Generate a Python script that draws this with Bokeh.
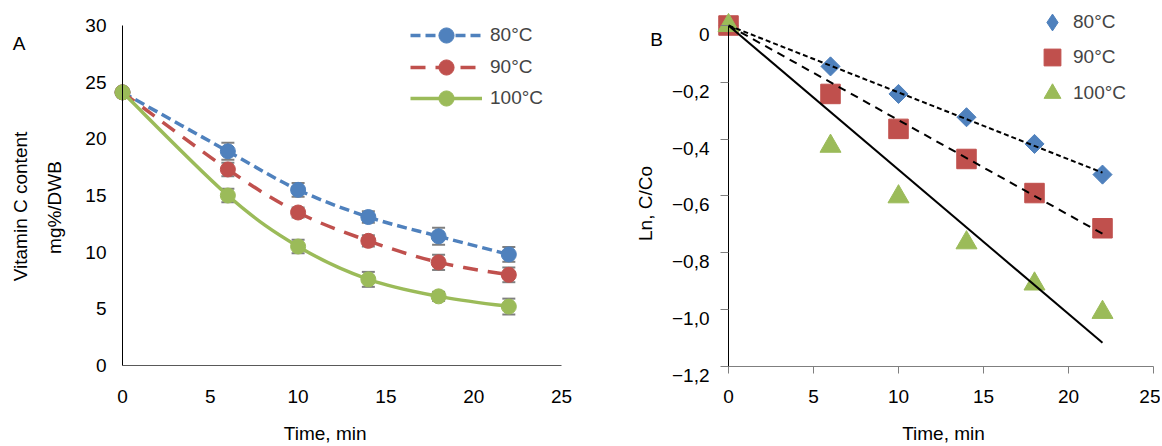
import numpy as np
from bokeh.plotting import figure
from bokeh.layouts import row
from bokeh.models import (Range1d, FixedTicker, ColumnDataSource, Whisker, TeeHead,
                          Legend, LegendItem, LinearAxis, CustomJSTickFormatter)
from bokeh.core.properties import value
from bokeh.embed import file_html
from bokeh.resources import INLINE

FONT = "Liberation Sans"
FS = "19px"

# ---------------- Panel A data ----------------
time_a = [0, 6, 10, 14, 18, 22]
vitc_80 = [24.1, 18.9, 15.5, 13.1, 11.4, 9.8]
vitc_90 = [24.1, 17.3, 13.5, 11.0, 9.1, 8.0]
vitc_100 = [24.1, 15.0, 10.5, 7.6, 6.1, 5.2]
err_80 = [0.0, 0.75, 0.6, 0.5, 0.75, 0.65]
err_90 = [0.0, 0.6, 0.45, 0.5, 0.67, 0.65]
err_100 = [0.0, 0.6, 0.6, 0.66, 0.4, 0.7]
series_labels = ["80°C", "90°C", "100°C"]
x_ticks = [0, 5, 10, 15, 20, 25]
y_ticks_a = [0, 5, 10, 15, 20, 25, 30]

# ---------------- Panel B data ----------------
time_b = [0, 6, 10, 14, 18, 22]
ln_80 = [0.0, -0.144, -0.241, -0.323, -0.417, -0.525]
ln_90 = [0.0, -0.241, -0.364, -0.470, -0.590, -0.714]
ln_100 = [0.0, -0.425, -0.603, -0.765, -0.910, -1.010]
y_ticks_b = [0, -0.2, -0.4, -0.6, -0.8, -1.0, -1.2]

BLUE, RED, GREEN = "#4F81BD", "#C0504D", "#9BBB59"
GRAY = "#7F7F7F"
H = 444


def smooth_segments(x, y, t=1.0 / 6.0):
    x = np.asarray(x, float)
    y = np.asarray(y, float)
    n = len(x)
    xp = np.concatenate([[x[0]], x, [x[-1]]])
    yp = np.concatenate([[y[0]], y, [y[-1]]])
    d = dict(x0=[], y0=[], x1=[], y1=[], cx0=[], cy0=[], cx1=[], cy1=[])
    for i in range(n - 1):
        p0 = np.array([xp[i], yp[i]])
        p1 = np.array([x[i], y[i]])
        p2 = np.array([x[i + 1], y[i + 1]])
        p3 = np.array([xp[i + 3], yp[i + 3]])
        c1 = p1 + (p2 - p0) * t
        c2 = p2 - (p3 - p1) * t
        d["x0"].append(p1[0]); d["y0"].append(p1[1])
        d["x1"].append(p2[0]); d["y1"].append(p2[1])
        d["cx0"].append(c1[0]); d["cy0"].append(c1[1])
        d["cx1"].append(c2[0]); d["cy1"].append(c2[1])
    return d


def style_axis(ax):
    ax.major_label_text_font = FONT
    ax.major_label_text_font_size = FS
    ax.major_label_text_color = "#000000"
    ax.minor_tick_in = 0
    ax.minor_tick_out = 0
    ax.major_tick_in = 0


def single_legend(item, vx, vy, gw, gh, standoff):
    return Legend(items=[item], location=(vx, vy), glyph_width=gw, glyph_height=gh,
                  spacing=0, label_standoff=standoff, padding=0, margin=0,
                  border_line_color=None, background_fill_alpha=0,
                  label_text_font=FONT, label_text_font_size=FS, label_height=20)


def add_text(p, x, y, text, angle=0.0):
    p.text(x=[x], y=[y], text=[text], angle=angle, text_font=value(FONT),
           text_font_size=FS, text_align="center", text_baseline="middle",
           text_color="#000000")


def bare_figure(w, x0, x1, y0, y1):
    p = figure(frame_width=w, frame_height=H, min_border=0,
               x_range=Range1d(x0, x1), y_range=Range1d(y0, y1),
               output_backend="svg", toolbar_location=None)
    p.title.visible = False
    p.grid.visible = False
    p.outline_line_color = None
    return p


# ================= Panel A =================
# screen geometry: y-axis at px 122, x-axis at px 365, 25 min = 439 px, 30 units = 340 px
A_W = 600
A_X0, A_PX = 122, 439 / 25.0
A_Y0, A_PY = 365, 340 / 30.0


def ax_(X):
    return (X - A_X0) / A_PX


def ay_(Y):
    return (A_Y0 - Y) / A_PY


pa = bare_figure(A_W, ax_(0), ax_(A_W), ay_(H), ay_(0))
for ax in (pa.xaxis[0], pa.yaxis[0]):
    style_axis(ax)
    ax.major_tick_out = 0
pa.xaxis.fixed_location = y_ticks_a[0]
pa.yaxis.fixed_location = x_ticks[0]
pa.xaxis.bounds = (x_ticks[0], x_ticks[-1])
pa.yaxis.bounds = (y_ticks_a[0], y_ticks_a[-1])
pa.xaxis.ticker = FixedTicker(ticks=x_ticks)
pa.yaxis.ticker = FixedTicker(ticks=y_ticks_a)
pa.xaxis.major_label_standoff = 24
pa.yaxis.major_label_standoff = 16
pa.xaxis.axis_line_color = "#595959"
pa.yaxis.axis_line_color = "#000000"

specs_a = [(vitc_80, err_80, BLUE, "10 5"),
           (vitc_90, err_90, RED, "15 10"),
           (vitc_100, err_100, GREEN, "solid")]
legend_rows_a = [35, 66.7, 97.7]
for lab, (vals, errs, col, dash), rc in zip(series_labels, specs_a, legend_rows_a):
    v = np.asarray(vals, float)
    e = np.asarray(errs, float)
    src = ColumnDataSource(dict(t=time_a, v=v, lo=v - e, hi=v + e))
    pa.add_layout(Whisker(source=src, base="t", lower="lo", upper="hi",
                          line_color=GRAY, line_width=1.5,
                          upper_head=TeeHead(size=13, line_color=GRAY, line_width=2),
                          lower_head=TeeHead(size=13, line_color=GRAY, line_width=2)))
    pa.bezier(source=ColumnDataSource(smooth_segments(time_a, vals)),
              x0="x0", y0="y0", x1="x1", y1="y1", cx0="cx0", cy0="cy0",
              cx1="cx1", cy1="cy1", line_color=col, line_width=3.5,
              line_dash=dash)
    leg_line = pa.line(x="t", y="v", source=src, line_color=col, line_width=3.5,
                       line_dash=dash, visible=False)
    sc = pa.scatter(x="t", y="v", source=src, size=15, marker="circle",
                    fill_color=col, line_color=col)
    pa.add_layout(single_legend(LegendItem(label=lab, renderers=[leg_line, sc]),
                                410, round(H - rc - 19), 72, 38, 8))

add_text(pa, ax_(18.5), ay_(43.3), "A")
add_text(pa, ax_(20.4), ay_(206), "Vitamin C content", np.pi / 2)
add_text(pa, ax_(53.7), ay_(207), "mg%/DWB", np.pi / 2)
add_text(pa, ax_(324.7), ay_(433), "Time, min")

# ================= Panel B =================
# screen geometry (page px): y-axis at 728, y=0 at 25, 25 min = 425 px, 1 unit = 284 px
B_OFF, B_W = 600, 560
B_X0, B_PX = 728 - B_OFF, 425 / 25.0
B_Y0, B_PY = 25, 284.0


def bx(X):
    return (X - B_OFF - B_X0) / B_PX


def by(Y):
    return -(Y - B_Y0) / B_PY


pb = bare_figure(B_W, bx(B_OFF), bx(B_OFF + B_W), by(H), by(0))
for ax in (pb.xaxis[0], pb.yaxis[0]):
    style_axis(ax)
pb.xaxis.fixed_location = y_ticks_b[-1]
pb.yaxis.fixed_location = x_ticks[0]
pb.xaxis.bounds = (x_ticks[0], x_ticks[-1])
pb.yaxis.bounds = (y_ticks_b[-1], y_ticks_b[0])
pb.xaxis.ticker = FixedTicker(ticks=x_ticks)
pb.yaxis.ticker = FixedTicker(ticks=y_ticks_b)
pb.xaxis.major_tick_out = 7
pb.yaxis.major_tick_out = 8
pb.xaxis.major_label_standoff = 17
pb.xaxis.axis_line_color = "#7F7F7F"
pb.xaxis.major_tick_line_color = "#7F7F7F"
pb.yaxis.axis_line_color = "#000000"
pb.yaxis.major_tick_line_color = "#7F7F7F"
pb.yaxis.formatter = CustomJSTickFormatter(code="return '';")

# tick labels of panel B sit a little below their ticks, as in the original
lab_shift = 9 / B_PY
pb.extra_y_ranges = {"lab": Range1d(by(H) + lab_shift, by(0) + lab_shift)}
ylab_axis = LinearAxis(y_range_name="lab", ticker=FixedTicker(ticks=y_ticks_b),
                       fixed_location=x_ticks[0], axis_line_color=None,
                       major_tick_line_color=None, major_tick_out=8,
                       major_label_standoff=11,
                       formatter=CustomJSTickFormatter(code="""
    if (Math.abs(tick) < 1e-9) { return "0"; }
    return tick.toFixed(1).replace(".", ",").replace("-", "\u2212");
"""))
style_axis(ylab_axis)
ylab_axis.major_tick_out = 8
pb.add_layout(ylab_axis, "left")

specs_b = [(ln_80, BLUE, "square", np.pi / 4, 13.5, "diamond", "5 3"),
           (ln_90, RED, "square", 0.0, 19.5, "square", "8 6"),
           (ln_100, GREEN, "triangle", 0.0, 21, "triangle", "solid")]
legend_rows_b = [21.7, 57.3, 93.3]
for lab_txt, (vals, col, mk, ang, sz, legmk, dash), rc in zip(series_labels, specs_b, legend_rows_b):
    pb.scatter(x=time_b, y=vals, marker=mk, angle=ang, size=sz,
               fill_color=col, line_color=col)
    leg_r = pb.scatter(x=time_b, y=vals, marker=legmk, fill_color=col,
                       line_color=col, visible=False)
    pb.add_layout(single_legend(LegendItem(label=lab_txt, renderers=[leg_r]),
                                1031 - B_OFF, round(H - rc - 21), 42, 42, -7))

tb = np.asarray(time_b, float)
for vals, col, mk, ang, sz, legmk, dash in specs_b:
    v = np.asarray(vals, float)
    k = (tb * v).sum() / (tb * tb).sum()   # linear fit through origin
    xs = [tb[0], tb[-1]]
    pb.line(x=xs, y=[k * xs[0], k * xs[1]], line_color="#000000",
            line_width=2, line_dash=dash)

add_text(pb, bx(656), by(39.3), "B")
add_text(pb, bx(644.8), by(203), "Ln, C/Co", np.pi / 2)
add_text(pb, bx(943), by(433), "Time, min")

layout = row(pa, pb, spacing=0)
open("out.html", "w").write(file_html(layout, INLINE))
